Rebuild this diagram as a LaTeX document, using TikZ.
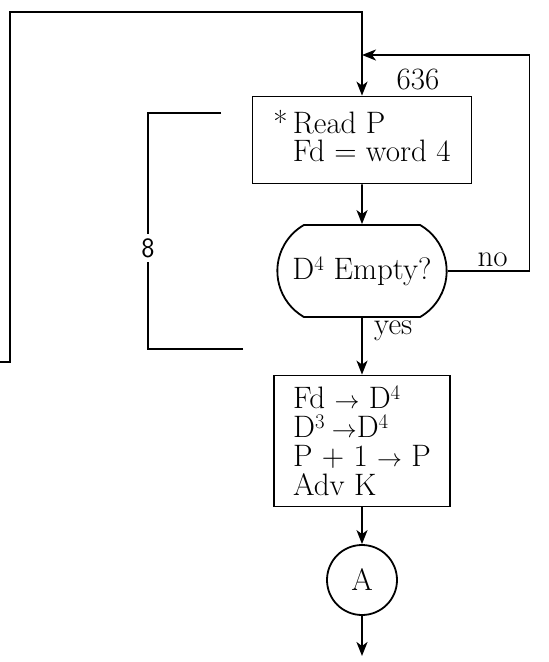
\documentclass[tikz,border=0pt]{standalone}
\usepackage{amsmath}
\usepackage{fontspec}
\usetikzlibrary{positioning, arrows.meta, shapes.misc}

\begin{document}
\begin{tikzpicture}[
    x=1pt, y=1pt,
    on grid,
    line width=1.8pt,
    >={Stealth[length=14pt, width=11pt, inset=4pt]},
    every node/.style={font=\fontsize{31}{29}\selectfont},
    box/.style={draw, rectangle, minimum width=219pt, minimum height=87pt},
    test/.style={draw, rounded rectangle, rounded rectangle arc length=120,
      minimum width=176pt, minimum height=92pt},
    conn/.style={draw, circle, minimum size=70pt},
  ]
  \useasboundingbox (0,0) rectangle (549,-662);

  \node[box] (read) at (362,-140)
    {\begin{tabular}{@{}r@{\,}l@{}}* & Read P\\[-2pt] & Fd = word 4\end{tabular}};
  \node (num) at ([xshift=56pt, yshift=16pt]read.north) {636};

  \node[test, below=131pt of read] (empty) {D$^4$ Empty?};

  \node[draw, minimum width=176pt, minimum height=131pt, align=left,
    below=170pt of empty] (proc)
    {Fd $\rightarrow$ D$^4$\\ D$^3\rightarrow$D$^4$\\ P + 1 $\rightarrow$ P\\ Adv K};

  \node[conn, below=139pt of proc] (conA) {A};

  % entry from the left
  \coordinate (inL) at (0,-362);
  \coordinate (topL) at (10,-12);
  \coordinate (join) at (362,-55);
  \coordinate (out) at (362,-656);

  \draw[->] (inL) -- (inL -| topL) -- (topL) -| (read.north);
  \draw[->] (read) -- (empty);
  \draw[->] (empty.east) -- node[above, pos=0.55] (no) {no} ++(82,0) |- (join);
  \draw[->] (empty) -- node[right, pos=0.22, xshift=8pt] (yes) {yes} (proc);
  \draw[->] (proc) -- (conA);
  \draw[->] (conA) -- (out);

  % bracket with count
  \node[font=\fontsize{28}{28}\sffamily] (eight) at (148,-248) {8};
  \coordinate (brT) at (221,-113);
  \coordinate (brB) at (243,-349);
  \draw (brT) -| (eight.north);
  \draw (brB) -| (eight.south);

\end{tikzpicture}
\end{document}
